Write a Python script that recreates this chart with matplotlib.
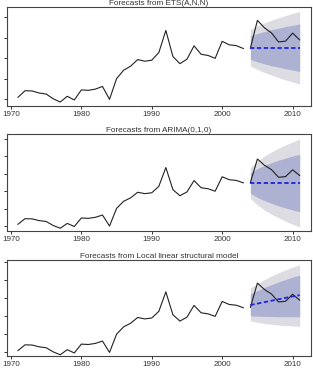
import matplotlib

matplotlib.use("Agg")
import matplotlib.pyplot as plt

plt.rcParams["font.family"] = ["Liberation Sans", "DejaVu Sans"]

# observed series (training part and hold-out part)
train_years = list(range(1971, 2004))
train_vals = [0.10, 0.42, 0.41, 0.31, 0.26, 0.03, -0.13, 0.15, -0.03, 0.46,
              0.44, 0.50, 0.63, 0.00, 1.01, 1.42, 1.62, 1.94, 1.86, 1.91,
              2.28, 3.36, 2.09, 1.74, 1.96, 2.61, 2.20, 2.14, 2.00, 2.83,
              2.66, 2.62, 2.48]
test_years = list(range(2004, 2012))
test_vals = [2.50, 3.85, 3.49, 3.24, 2.80, 2.84, 3.23, 2.90]

# ETS(A,N,N)
ets_mean = [2.52] * 8
ets_lo80 = [1.94, 1.83, 1.73, 1.64, 1.57, 1.49, 1.43, 1.36]
ets_hi80 = [3.10, 3.21, 3.31, 3.40, 3.47, 3.55, 3.61, 3.68]
ets_lo95 = [1.63, 1.46, 1.31, 1.18, 1.06, 0.95, 0.85, 0.75]
ets_hi95 = [3.41, 3.58, 3.73, 3.86, 3.98, 4.09, 4.19, 4.29]

# ARIMA(0,1,0)
arima_mean = [2.47] * 8
arima_lo80 = [1.89, 1.64, 1.46, 1.30, 1.16, 1.04, 0.92, 0.82]
arima_hi80 = [3.05, 3.30, 3.48, 3.64, 3.78, 3.90, 4.02, 4.12]
arima_lo95 = [1.58, 1.21, 0.92, 0.68, 0.47, 0.28, 0.10, -0.06]
arima_hi95 = [3.36, 3.73, 4.02, 4.26, 4.47, 4.66, 4.84, 5.00]

# Local linear structural model
struct_mean = [2.63, 2.71, 2.79, 2.87, 2.95, 3.03, 3.11, 3.18]
struct_lo80 = [2.03, 2.01, 2.00, 1.99, 1.98, 1.98, 1.98, 1.98]
struct_hi80 = [3.25, 3.43, 3.60, 3.76, 3.91, 4.05, 4.18, 4.29]
struct_lo95 = [1.75, 1.67, 1.61, 1.56, 1.52, 1.49, 1.47, 1.45]
struct_hi95 = [3.58, 3.82, 4.04, 4.24, 4.42, 4.58, 4.73, 4.86]

x_ticks = [1970, 1980, 1990, 2000, 2010]

panels = [
    ("Forecasts from ETS(A,N,N)", ets_mean, ets_lo80, ets_hi80, ets_lo95, ets_hi95,
     [0.7143, 0.266], (-0.31, 4.49), range(0, 5)),
    ("Forecasts from ARIMA(0,1,0)", arima_mean, arima_lo80, arima_hi80, arima_lo95, arima_hi95,
     [0.3765, 0.2605], (-0.27, 5.27), range(0, 6)),
    ("Forecasts from Local linear structural model", struct_mean, struct_lo80, struct_hi80,
     struct_lo95, struct_hi95, [0.0378, 0.2595], (-0.20, 5.13), range(0, 6)),
]

fig = plt.figure(figsize=(3.13, 3.70), dpi=100)

for title, mean, lo80, hi80, lo95, hi95, (bottom, height), ylim, yticks in panels:
    ax = fig.add_axes([0.0214, bottom, 0.972, height])
    ax.fill_between(test_years, lo95, hi95, color="#dcdce2", linewidth=0)
    ax.fill_between(test_years, lo80, hi80, color="#adb1d2", linewidth=0)
    ax.plot(train_years, train_vals, color="#222222", linewidth=0.8)
    ax.plot(test_years, test_vals, color="#222222", linewidth=0.8)
    ax.plot(test_years, mean, color="#2222dd", linewidth=1.3, dashes=(2.4, 1.4))
    ax.set_xlim(1969.4, 2012.6)
    ax.set_ylim(*ylim)
    ax.set_xticks(x_ticks)
    ax.set_yticks(list(yticks))
    ax.tick_params(labelleft=False, labelsize=5.8, length=2.3, width=0.7,
                   pad=1.5, color="#333333", labelcolor="#333333")
    for spine in ax.spines.values():
        spine.set_color("#444444")
        spine.set_linewidth(0.8)
    ax.set_title(title, fontsize=5.9, pad=0, color="#333333")

fig.savefig("out.png", dpi=100)
